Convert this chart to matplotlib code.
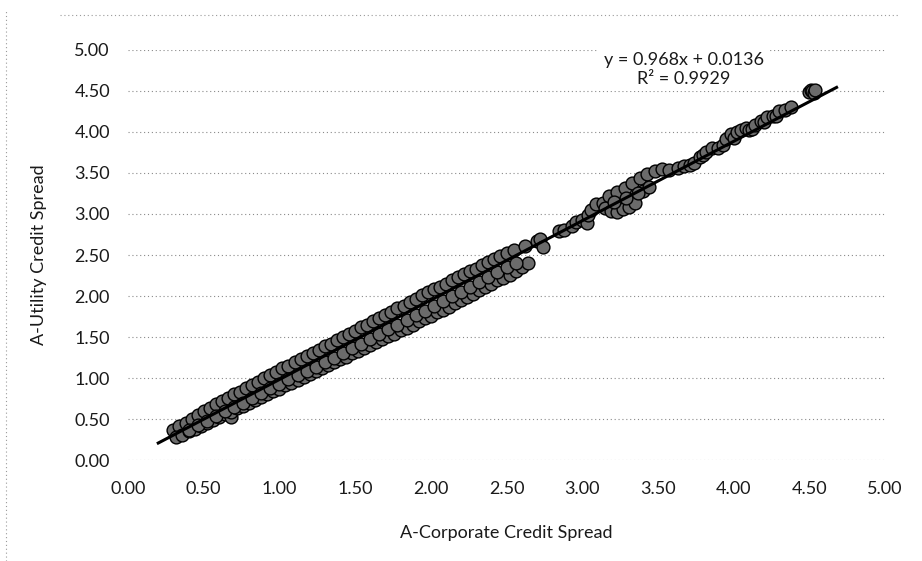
import matplotlib
matplotlib.use("Agg")
import matplotlib.pyplot as plt
from matplotlib.lines import Line2D
import numpy as np

plt.rcParams['font.family'] = ['Lato', 'DejaVu Sans']

# upper lane of the dense band (above the trend line)
x_upper = [0.30, 0.34, 0.38, 0.42, 0.46, 0.50, 0.54, 0.58, 0.62, 0.66, 0.70, 0.74, 0.78, 0.82,
           0.86, 0.90, 0.94, 0.98, 1.02, 1.06, 1.10, 1.14, 1.18, 1.22, 1.26, 1.30, 1.34, 1.38,
           1.42, 1.46, 1.50, 1.54, 1.58, 1.62, 1.66, 1.70, 1.74, 1.78, 1.82, 1.86, 1.90, 1.94,
           1.98, 2.02, 2.06, 2.10, 2.14, 2.18, 2.22, 2.26, 2.30, 2.34, 2.38, 2.42, 2.46, 2.50,
           2.55, 2.62, 2.70]
y_upper = [0.36, 0.41, 0.45, 0.50, 0.55, 0.60, 0.63, 0.68, 0.72, 0.76, 0.80, 0.83, 0.88, 0.92,
           0.95, 1.00, 1.04, 1.07, 1.12, 1.15, 1.19, 1.23, 1.27, 1.31, 1.34, 1.39, 1.42, 1.46,
           1.50, 1.54, 1.57, 1.62, 1.65, 1.70, 1.73, 1.77, 1.80, 1.85, 1.88, 1.93, 1.96, 2.01,
           2.05, 2.08, 2.11, 2.15, 2.19, 2.23, 2.27, 2.30, 2.33, 2.38, 2.41, 2.45, 2.49, 2.52,
           2.56, 2.61, 2.67]

# lower lane of the dense band (below the trend line)
x_lower = [0.32, 0.36, 0.40, 0.44, 0.48, 0.52, 0.56, 0.60, 0.64, 0.68, 0.68, 0.72, 0.76, 0.80,
           0.84, 0.88, 0.92, 0.96, 1.00, 1.04, 1.08, 1.12, 1.16, 1.20, 1.24, 1.28, 1.32, 1.36,
           1.40, 1.44, 1.48, 1.52, 1.56, 1.60, 1.64, 1.68, 1.72, 1.76, 1.80, 1.84, 1.88, 1.92,
           1.96, 2.00, 2.04, 2.08, 2.12, 2.16, 2.20, 2.24, 2.28, 2.32, 2.36, 2.40, 2.44, 2.48,
           2.52, 2.56, 2.60, 2.64]
y_lower = [0.28, 0.31, 0.35, 0.38, 0.42, 0.45, 0.49, 0.52, 0.56, 0.52, 0.59, 0.63, 0.66, 0.70,
           0.73, 0.77, 0.80, 0.84, 0.87, 0.91, 0.94, 0.98, 1.01, 1.05, 1.08, 1.12, 1.16, 1.19,
           1.23, 1.26, 1.30, 1.33, 1.37, 1.40, 1.44, 1.47, 1.51, 1.54, 1.58, 1.61, 1.65, 1.69,
           1.73, 1.76, 1.80, 1.83, 1.87, 1.91, 1.95, 1.99, 2.03, 2.07, 2.11, 2.15, 2.19, 2.22,
           2.26, 2.31, 2.35, 2.40]

# points just under the line inside the band
x_mid = [0.40, 0.46, 0.52, 0.58, 0.64, 0.70, 0.76, 0.82, 0.88, 0.94, 1.00, 1.06, 1.12, 1.18,
         1.24, 1.30, 1.36, 1.42, 1.48, 1.54, 1.60, 1.66, 1.72, 1.78, 1.84, 1.90, 1.96, 2.02,
         2.08, 2.14, 2.20, 2.26, 2.32, 2.38, 2.44, 2.50, 2.56]
y_mid = [0.37, 0.43, 0.48, 0.54, 0.60, 0.65, 0.70, 0.76, 0.82, 0.88, 0.93, 0.99, 1.04, 1.09,
         1.14, 1.20, 1.25, 1.31, 1.37, 1.42, 1.48, 1.54, 1.60, 1.65, 1.71, 1.77, 1.82, 1.88,
         1.94, 2.00, 2.05, 2.11, 2.17, 2.23, 2.29, 2.35, 2.40]

# sparser points above 2.7
x_high = [2.72, 2.74, 2.85, 2.88, 2.93, 2.96, 3.00, 3.03, 3.04, 3.06, 3.09,
          3.14, 3.18, 3.23, 3.28, 3.33, 3.38, 3.43, 3.48, 3.53, 3.57,
          3.15, 3.19, 3.23, 3.27, 3.31, 3.35, 3.40, 3.44, 3.21, 3.29, 3.37,
          3.63, 3.67, 3.71, 3.74, 3.78, 3.80, 3.82, 3.86, 3.90, 3.93,
          3.95, 3.98, 4.00, 4.02, 4.05, 4.08, 4.10, 4.12, 4.14, 4.18, 4.20, 4.22,
          4.26, 4.28, 4.30, 4.34, 4.38,
          4.50, 4.51, 4.52, 4.53, 4.54]
y_high = [2.70, 2.60, 2.79, 2.80, 2.85, 2.90, 2.93, 2.89, 2.99, 3.05, 3.12,
          3.14, 3.22, 3.27, 3.32, 3.38, 3.44, 3.49, 3.52, 3.55, 3.54,
          3.07, 3.04, 3.03, 3.06, 3.08, 3.13, 3.28, 3.33, 3.15, 3.19, 3.25,
          3.56, 3.58, 3.60, 3.62, 3.70, 3.72, 3.75, 3.80, 3.80, 3.84,
          3.92, 3.97, 3.93, 4.00, 4.03, 4.05, 4.02, 4.04, 4.08, 4.13, 4.12, 4.18,
          4.20, 4.19, 4.25, 4.27, 4.31,
          4.49, 4.51, 4.50, 4.48, 4.51]

slope = 0.968
intercept = 0.0136
r2 = 0.9929
trend_x = [0.20, 4.68]

ticks = [0.0, 0.5, 1.0, 1.5, 2.0, 2.5, 3.0, 3.5, 4.0, 4.5, 5.0]

fig = plt.figure(figsize=(9.22, 5.61), dpi=100)
ax = fig.add_axes([0.1388, 0.180, 0.8211, 0.7309])

xs = np.array(x_upper + x_lower + x_mid + x_high)
ys = np.array(y_upper + y_lower + y_mid + y_high)
ax.scatter(xs, ys, s=85, facecolor='#6b6b6b', edgecolor='black', linewidth=1.0, zorder=3)

tx = np.array(trend_x)
ax.plot(tx, slope * tx + intercept, color='black', linewidth=2.2, zorder=4)

ax.set_xlim(0, 5)
ax.set_ylim(0, 5)
ax.set_xticks(ticks)
ax.set_yticks(ticks)
ax.set_xticklabels([f"{t:.2f}" for t in ticks])
ax.set_yticklabels([f"{t:.2f}" for t in ticks])
ax.tick_params(length=0, labelsize=13, colors='#1a1a1a')
ax.tick_params(axis='x', pad=15)
ax.tick_params(axis='y', pad=13)
for sp in ax.spines.values():
    sp.set_visible(False)
ax.set_axisbelow(True)
ax.yaxis.grid(True, color='#8a8a8a', linestyle=(0, (1, 2.5)), linewidth=0.8)

ax.set_xlabel("A-Corporate Credit Spread", fontsize=13, labelpad=20, color='#1a1a1a')
ax.set_ylabel("A-Utility Credit Spread", fontsize=13, labelpad=20, color='#1a1a1a')

ax.text(3.67, 4.76, f"y = {slope}x + {intercept}\nR² = {r2}", ha='center', va='center',
        fontsize=13, color='#1a1a1a', linespacing=1.25,
        bbox=dict(facecolor='white', edgecolor='none', pad=3), zorder=5)

# dotted chart-area border (top and left)
fig.add_artist(Line2D([0.065, 0.975], [0.973, 0.973], transform=fig.transFigure,
                      color='#9a9a9a', linestyle=(0, (1, 2.5)), linewidth=0.8))
fig.add_artist(Line2D([0.006, 0.006], [0.0, 0.98], transform=fig.transFigure,
                      color='#9a9a9a', linestyle=(0, (1, 2.5)), linewidth=0.8))

fig.savefig("out.png", dpi=100)
